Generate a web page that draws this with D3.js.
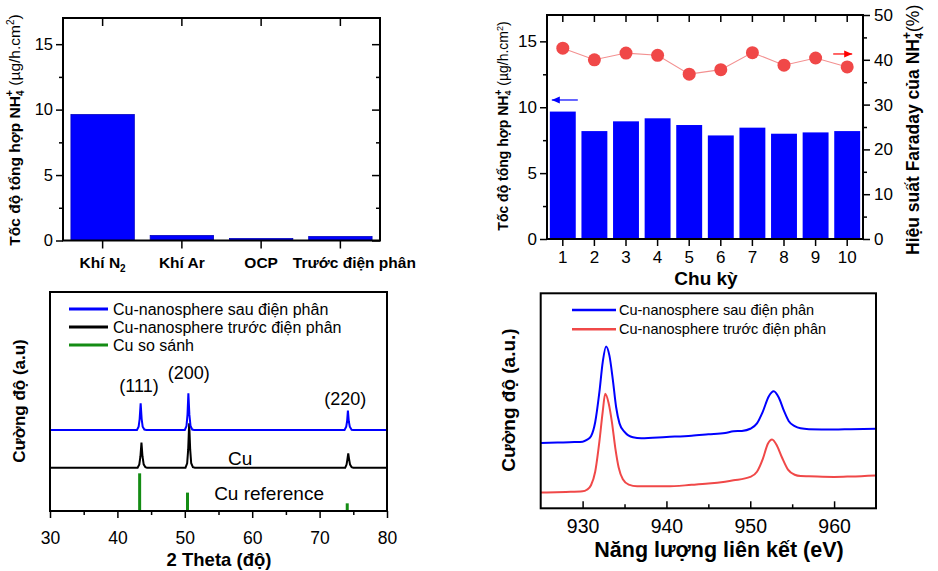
<!DOCTYPE html>
<html><head><meta charset="utf-8">
<script src="https://cdn.jsdelivr.net/npm/d3@7"></script>
<style>body{margin:0;background:#fff} svg{font-family:"Liberation Sans",Arial,Helvetica,sans-serif}</style>
</head><body><svg id="c" width="938" height="571"></svg>
<script>
// ---------- Panel A data ----------
const gasCategories = ["Khí N2", "Khí Ar", "OCP", "Trước điện phân"];
const gasRates = [9.62, 0.38, 0.15, 0.30];
const rateTicks = [0, 5, 10, 15];
const rateMinorTicks = [2.5, 7.5, 12.5];
// ---------- Panel B data ----------
const cycles = [1, 2, 3, 4, 5, 6, 7, 8, 9, 10];
const cycleRates = [9.67, 8.19, 8.93, 9.16, 8.65, 7.86, 8.45, 7.99, 8.09, 8.19];
const faradayEff = [42.6, 40.0, 41.5, 41.0, 36.8, 37.8, 41.6, 38.8, 40.4, 38.4];
const effTicks = [0, 10, 20, 30, 40, 50];
const effMinorTicks = [5, 15, 25, 35, 45];
// ---------- Panel C data (XRD) ----------
const xrdTicks = [30, 40, 50, 60, 70, 80];
const xrdMinorTicks = [35, 45, 55, 65, 75];
const xrdAfter = [[30,37.0],[42.9,37.0],[43.15,38.5],[43.3,42],[43.45,49.2],[43.6,42],[43.75,38.5],[44.0,37.2],[44.3,37.0],
  [50.0,37.0],[50.25,38.8],[50.4,44],[50.53,53.7],[50.68,44],[50.85,38.8],[51.1,37.2],[51.4,37.0],
  [73.7,37.0],[73.95,38.5],[74.08,41],[74.2,45.8],[74.33,41],[74.48,38.5],[74.75,37.1],[75.0,37.0],[80,37.0]];
const xrdBefore = [[30,19.8],[43.0,19.8],[43.25,21.3],[43.42,25],[43.57,31.2],[43.72,25],[43.9,21.3],[44.15,20.0],[44.4,19.8],
  [50.1,19.8],[50.35,21.8],[50.5,28],[50.65,40.1],[50.8,28],[50.95,21.8],[51.2,20.0],[51.5,19.8],
  [73.8,19.8],[74.0,21.2],[74.12,23.5],[74.25,26.3],[74.38,23.5],[74.52,21.2],[74.75,20.0],[75.0,19.8],[80,19.8]];
const xrdRefPos = [43.3, 50.4, 74.1];
const xrdRefInt = [17.2, 8.4, 3.5];
const xrdLegend = ["Cu-nanosphere sau điện phân", "Cu-nanosphere trước điện phân", "Cu so sánh"];
// ---------- Panel D data (XPS) ----------
const xpsTicks = [930, 940, 950, 960];
const xpsMinorTicks = [935, 945, 955];
const xpsAfter = [[925,30.4],[927,30.6],[929,30.8],[930,31.0],[930.5,31.8],[931,33.5],[931.5,40],[932,54],[932.4,68],[932.8,75.3],[933.2,71],[933.6,60],[934.0,47],[934.4,39.5],[935,35.5],[936,33],[937,32.6],[940,33.2],[943,33.8],[945,34.4],[947,35.0],[948,35.8],[949,36.0],[950,37.0],[950.8,39.5],[951.5,45],[952.2,52],[952.8,54.4],[953.4,51.5],[954,45.5],[954.6,40.5],[955.3,38.2],[956,37.2],[957,36.8],[960,36.6],[962,36.8],[965,37.0]];
const xpsBefore = [[925,7.3],[928,7.6],[930,7.9],[930.5,8.6],[931,10.7],[931.5,17],[932,31],[932.4,45],[932.7,53.3],[933.1,49],[933.5,40],[933.9,28],[934.3,19],[934.8,13.5],[935.5,11.0],[936.5,10.2],[940,10.2],[943,10.9],[945,11.5],[947,12.4],[948,13.0],[950,14.6],[950.8,17],[951.5,23],[952.1,30],[952.6,32],[953.2,29],[953.8,23.5],[954.5,18],[955.3,15.6],[956,15.0],[957,14.9],[960,14.6],[962,14.8],[965,15.3]];
const xpsLegend = ["Cu-nanosphere sau điện phân", "Cu-nanosphere trước điện phân"];

const svg = d3.select("#c");
const BLUE = "#0000ff", RED = "#f04848", GREEN = "#148c14";

function addAxis(gen, x, y, fs) {
  const g = svg.append("g").attr("transform", `translate(${x},${y})`).call(gen);
  g.select(".domain").remove();
  g.attr("font-family", null);
  g.selectAll(".tick line").attr("stroke", "#000").attr("stroke-width", 1.5);
  g.selectAll("text").attr("font-size", fs).attr("fill", "#000");
  return g;
}
function box(x0, x1, y0, y1) {
  svg.append("rect").attr("x", x0).attr("y", y0).attr("width", x1 - x0).attr("height", y1 - y0)
    .attr("fill", "none").attr("stroke", "#000").attr("stroke-width", 2);
}
function rotLabel(cx, cy, fs, parts, anchor) {
  const t = svg.append("text").attr("transform", `translate(${cx},${cy}) rotate(-90)`)
    .attr("text-anchor", anchor || "middle").attr("font-size", fs);
  parts.forEach(p => {
    const s = t.append("tspan").text(p.t);
    if (p.b) s.attr("font-weight", "bold");
    if (p.fs) s.attr("font-size", p.fs);
    if (p.dy) s.attr("dy", p.dy);
    if (p.dx) s.attr("dx", p.dx);
  });
  return t;
}

// ================= Panel A =================
{
  const L = 63, R = 380, T = 18, B = 240.5;
  const x = d3.scaleBand().domain(gasCategories).range([L, R]).paddingInner(0.2).paddingOuter(0.1);
  const y = d3.scaleLinear().domain([0, 17]).range([B, T]);
  svg.append("g").selectAll("rect").data(gasRates).join("rect")
    .attr("x", (d, i) => x(gasCategories[i])).attr("width", x.bandwidth())
    .attr("y", d => y(d)).attr("height", d => B - y(d))
    .attr("fill", BLUE).attr("stroke", "#0000c0").attr("stroke-width", 0.8);
  addAxis(d3.axisLeft(y).tickValues(rateTicks).tickSize(7).tickPadding(3), L, 0, 16.5);
  addAxis(d3.axisLeft(y).tickValues(rateMinorTicks).tickSize(4).tickFormat(""), L, 0, 14);
  addAxis(d3.axisLeft(y).tickValues(rateTicks).tickSize(8).tickFormat(""), R, 0, 14);
  addAxis(d3.axisLeft(y).tickValues(rateMinorTicks).tickSize(4).tickFormat(""), R, 0, 14);
  addAxis(d3.axisBottom(x).tickSize(8).tickFormat(""), 0, B, 14);
  addAxis(d3.axisBottom(x).tickSize(8).tickFormat(""), 0, T, 14);
  box(L, R, T, B);
  gasCategories.forEach((c, i) => {
    const t = svg.append("text").attr("x", x(c) + x.bandwidth() / 2).attr("dx", i === 3 ? 14 : 0).attr("y", 267.5)
      .attr("text-anchor", "middle").attr("font-size", 15.5).attr("font-weight", "bold");
    if (c === "Khí N2") { t.append("tspan").text("Khí N"); t.append("tspan").text("2").attr("font-size", 10).attr("dy", 4); }
    else t.text(c);
  });
  rotLabel(20, 130, 15.5, [
    {t: "Tốc độ tổng hợp NH", b: 1}, {t: "4", b: 1, fs: 10, dy: 4}, {t: "+", b: 1, fs: 11, dy: -11, dx: -6},
    {t: " (µg/h.cm", dy: 7}, {t: "2", fs: 10, dy: -6}, {t: ")", dy: 6}]);
}

// ================= Panel B =================
{
  const L = 547, R = 863, T = 15, B = 239;
  const x = d3.scaleBand().domain(cycles).range([L, R]).paddingInner(0.18).paddingOuter(0.09);
  const yL = d3.scaleLinear().domain([0, 17]).range([B, T]);
  const yR = d3.scaleLinear().domain([0, 50]).range([B, T]);
  const cx = d => x(d) + x.bandwidth() / 2;
  svg.append("g").selectAll("rect").data(cycleRates).join("rect")
    .attr("x", (d, i) => x(cycles[i])).attr("width", x.bandwidth())
    .attr("y", d => yL(d)).attr("height", d => B - yL(d)).attr("fill", BLUE);
  svg.append("path").datum(faradayEff)
    .attr("d", d3.line().x((d, i) => cx(cycles[i])).y(d => yR(d)))
    .attr("fill", "none").attr("stroke", "#f39090").attr("stroke-width", 1.1);
  svg.append("g").selectAll("circle").data(faradayEff).join("circle")
    .attr("cx", (d, i) => cx(cycles[i])).attr("cy", d => yR(d)).attr("r", 6.5).attr("fill", RED);
  addAxis(d3.axisLeft(yL).tickValues(rateTicks).tickSize(7).tickPadding(3), L, 0, 17);
  addAxis(d3.axisLeft(yL).tickValues(rateMinorTicks).tickSize(4).tickFormat(""), L, 0, 15);
  addAxis(d3.axisRight(yR).tickValues(effTicks).tickSize(7).tickPadding(4), R, 0, 17);
  addAxis(d3.axisRight(yR).tickValues(effMinorTicks).tickSize(4).tickFormat(""), R, 0, 15);
  addAxis(d3.axisBottom(x).tickSize(7).tickPadding(5), 0, B, 17);
  addAxis(d3.axisBottom(x).tickSize(7).tickFormat(""), 0, T, 15);
  box(L, R, T, B);
  const arrow = (x1, x2, yy, col) => {
    svg.append("line").attr("x1", x1).attr("x2", x2).attr("y1", yy).attr("y2", yy).attr("stroke", col).attr("stroke-width", 1.2);
    const dir = Math.sign(x2 - x1);
    svg.append("path").attr("d", `M${x2},${yy} L${x2 - dir * 8},${yy - 3.5} L${x2 - dir * 8},${yy + 3.5} Z`).attr("fill", col);
  };
  arrow(cx(1) + 15, cx(1) - 11, yL(10.55), BLUE);
  arrow(cx(10) - 14, cx(10) + 5, yR(41.3), "#ff0000");
  svg.append("text").attr("x", 706).attr("y", 285).attr("text-anchor", "middle")
    .attr("font-size", 19).attr("font-weight", "bold").text("Chu kỳ");
  rotLabel(508, 126, 14, [
    {t: "Tốc độ tổng hợp NH", b: 1}, {t: "4", b: 1, fs: 9, dy: 3}, {t: "+", b: 1, fs: 10, dy: -9, dx: -5},
    {t: " (µg/h.cm", dy: 6}, {t: "2", fs: 9, dy: -5}, {t: ")", dy: 5}]);
  rotLabel(919, 255, 17.5, [
    {t: "Hiệu suất Faraday của NH", b: 1}, {t: "4", b: 1, fs: 11, dy: 4}, {t: "+", b: 1, fs: 12, dy: -12, dx: -6},
    {t: "(%)", dy: 8}], "start");
}

// ================= Panel C =================
{
  const L = 50, R = 387, T = 292, B = 511;
  const x = d3.scaleLinear().domain([30, 80]).range([L, R]);
  const y = d3.scaleLinear().domain([0, 100]).range([B, T]);
  const line = d3.line().x(d => x(d[0])).y(d => y(d[1]));
  svg.append("path").datum(xrdBefore).attr("d", line).attr("fill", "none").attr("stroke", "#000").attr("stroke-width", 2);
  svg.append("path").datum(xrdAfter).attr("d", line).attr("fill", "none").attr("stroke", BLUE).attr("stroke-width", 2);
  svg.append("g").selectAll("line").data(xrdRefPos).join("line")
    .attr("x1", d => x(d)).attr("x2", d => x(d)).attr("y1", y(0)).attr("y2", (d, i) => y(xrdRefInt[i]))
    .attr("stroke", GREEN).attr("stroke-width", 3);
  addAxis(d3.axisBottom(x).tickValues(xrdTicks).tickSize(7).tickPadding(14), 0, B, 17.5);
  addAxis(d3.axisBottom(x).tickValues(xrdMinorTicks).tickSize(4).tickFormat(""), 0, B, 15);
  box(L, R, T, B);
  const cols = [BLUE, "#000", GREEN];
  xrdLegend.forEach((s, i) => {
    const yy = 309 + i * 18;
    svg.append("line").attr("x1", 69).attr("x2", 108).attr("y1", yy).attr("y2", yy).attr("stroke", cols[i]).attr("stroke-width", 3);
    svg.append("text").attr("x", 113).attr("y", yy + 5.5).attr("font-size", 16).text(s);
  });
  const ann = (t, xx, yy, fs) => svg.append("text").attr("x", x(xx)).attr("y", y(yy)).attr("text-anchor", "middle").attr("font-size", fs).text(t);
  ann("(111)", 43.2, 54.5, 18);
  ann("(200)", 50.6, 60.5, 18);
  ann("(220)", 73.8, 48.5, 18);
  ann("Cu", 58.2, 21, 19);
  ann("Cu reference", 62.5, 5, 19);
  svg.append("text").attr("x", 219).attr("y", 566).attr("text-anchor", "middle")
    .attr("font-size", 18.5).attr("font-weight", "bold").text("2 Theta (độ)");
  rotLabel(25, 401, 17, [{t: "Cường độ (a.u)", b: 1}]);
}

// ================= Panel D =================
{
  const L = 540.7, R = 876, T = 293.3, B = 508.3;
  const x = d3.scaleLinear().domain([925, 965]).range([L, R]);
  const y = d3.scaleLinear().domain([0, 100]).range([B, T]);
  const line = d3.line().x(d => x(d[0])).y(d => y(d[1])).curve(d3.curveMonotoneX);
  svg.append("path").datum(xpsBefore).attr("d", line).attr("fill", "none").attr("stroke", RED).attr("stroke-width", 2);
  svg.append("path").datum(xpsAfter).attr("d", line).attr("fill", "none").attr("stroke", BLUE).attr("stroke-width", 2);
  addAxis(d3.axisBottom(x).tickValues(xpsTicks).tickSizeInner(-7).tickSizeOuter(0).tickPadding(11), 0, B, 19.5);
  addAxis(d3.axisBottom(x).tickValues(xpsMinorTicks).tickSizeInner(-4).tickSizeOuter(0).tickFormat(""), 0, B, 15);
  box(L, R, T, B);
  const cols = [BLUE, RED];
  xpsLegend.forEach((s, i) => {
    const yy = 310 + i * 19.3;
    svg.append("line").attr("x1", 572).attr("x2", 616).attr("y1", yy).attr("y2", yy).attr("stroke", cols[i]).attr("stroke-width", 2.5);
    svg.append("text").attr("x", 619).attr("y", yy + 5).attr("font-size", 14.5).text(s);
  });
  svg.append("text").attr("x", 719).attr("y", 557).attr("text-anchor", "middle")
    .attr("font-size", 21.5).attr("font-weight", "bold").text("Năng lượng liên kết (eV)");
  rotLabel(515, 400, 19, [{t: "Cường độ (a.u.)", b: 1}]);
}
</script></body></html>
